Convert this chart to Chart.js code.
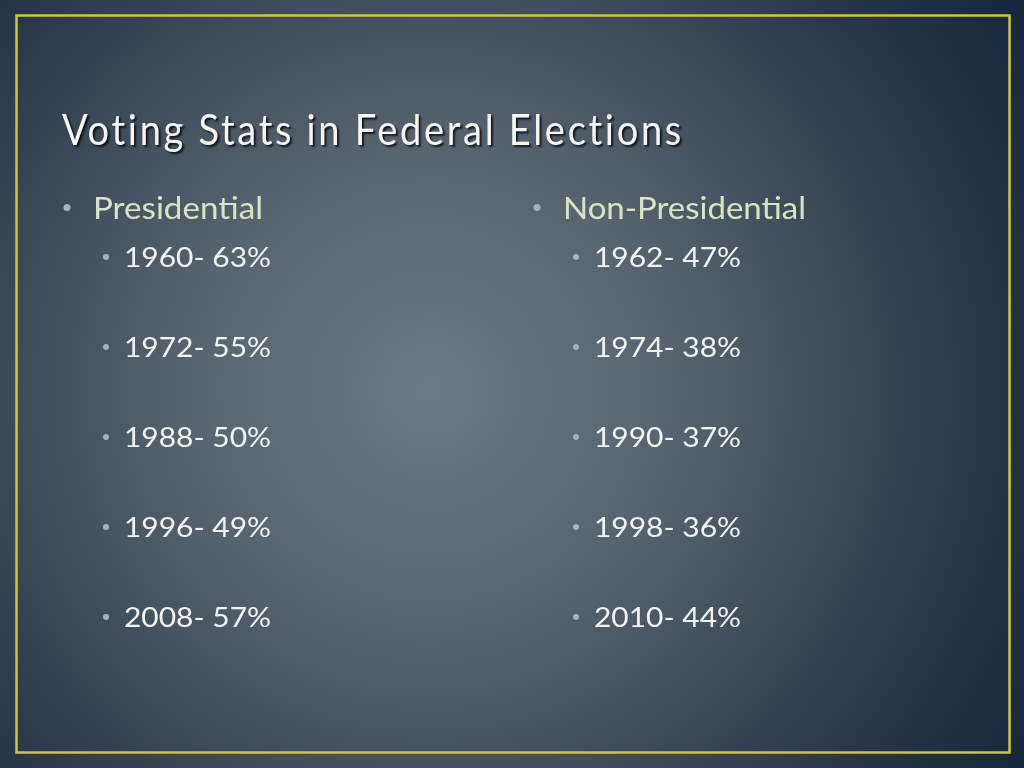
<!DOCTYPE html>
<html>
<head>
<meta charset="utf-8">
<script src="https://cdn.jsdelivr.net/npm/chart.js@4"></script>
<style>
  html, body { margin: 0; padding: 0; background: #1b2838; }
  #wrap { width: 1024px; height: 768px; }
</style>
</head>
<body>
<div id="wrap"><canvas id="slide"></canvas></div>
<script>
// Slide data
const title = 'Voting Stats in Federal Elections';
const groups = ['Presidential', 'Non-Presidential'];
const presYears = [1960, 1972, 1988, 1996, 2008];
const presTurnout = [63, 55, 50, 49, 57];
const nonPresYears = [1962, 1974, 1990, 1998, 2010];
const nonPresTurnout = [47, 38, 37, 36, 44];

const FONT = 'Lato, "Open Sans", sans-serif';

// Fit text into a target width by horizontal scaling
function fitText(ctx, text, x, y, width) {
  const w = ctx.measureText(text).width;
  ctx.save();
  ctx.translate(x, y);
  ctx.scale(width / w, 1);
  ctx.fillText(text, 0, 0);
  ctx.restore();
}

const slidePlugin = {
  id: 'slide',
  beforeDraw(chart) {
    const { ctx, width, height } = chart;
    // radial background
    const g = ctx.createRadialGradient(430, 390, 0, 430, 390, 720);
    g.addColorStop(0, '#6c7a84');
    g.addColorStop(0.35, '#56636e');
    g.addColorStop(0.75, '#2a3848');
    g.addColorStop(1, '#15243a');
    ctx.fillStyle = g;
    ctx.fillRect(0, 0, width, height);
    // yellow frame
    ctx.strokeStyle = '#c9c93a';
    ctx.lineWidth = 2.5;
    ctx.strokeRect(16.5, 15.5, 993, 737);
    // title
    ctx.save();
    ctx.font = '43px ' + FONT;
    ctx.letterSpacing = '3px';
    ctx.textBaseline = 'alphabetic';
    ctx.shadowColor = 'rgba(0,0,0,0.75)';
    ctx.shadowOffsetX = 2;
    ctx.shadowOffsetY = 2;
    ctx.shadowBlur = 2;
    ctx.fillStyle = '#f4f6f6';
    fitText(ctx, title, 62, 145, 622);
    ctx.restore();
  },
  afterDatasetsDraw(chart) {
    const { ctx } = chart;
    const xs = chart.scales.x;
    const ys = chart.scales.y;
    ctx.save();
    ctx.textBaseline = 'middle';
    chart.data.datasets.forEach((ds, di) => {
      // group header one step above the first row
      const hx = xs.getPixelForValue(di) - 31;
      const hy = ys.getPixelForValue(-0.55);
      ctx.fillStyle = '#a9b2ba';
      ctx.beginPath();
      ctx.arc(hx - 26, hy, 3.5, 0, Math.PI * 2);
      ctx.fill();
      ctx.font = '31px ' + FONT;
      ctx.fillStyle = '#dbe3c6';
      fitText(ctx, ds.label, hx, hy + 1, di === 0 ? 170 : 243);
      // rows
      const meta = chart.getDatasetMeta(di);
      meta.data.forEach((pt, i) => {
        ctx.fillStyle = '#a9b2ba';
        ctx.beginPath();
        ctx.arc(pt.x - 18, pt.y, 3, 0, Math.PI * 2);
        ctx.fill();
        ctx.font = '27px ' + FONT;
        ctx.fillStyle = '#f2f4f4';
        fitText(ctx, ds.data[i].text, pt.x, pt.y + 1, 147);
      });
    });
    ctx.restore();
  }
};

function rows(years, turnout) {
  return years.map((yr, i) => ({ x: 0, y: i, text: yr + '- ' + turnout[i] + '%' }));
}

const presRows = rows(presYears, presTurnout);
const nonPresRows = rows(nonPresYears, nonPresTurnout).map(r => ({ ...r, x: 1 }));

new Chart(document.getElementById('slide'), {
  type: 'scatter',
  data: {
    datasets: [
      { label: groups[0], data: presRows, pointRadius: 0 },
      { label: groups[1], data: nonPresRows, pointRadius: 0 }
    ]
  },
  options: {
    responsive: true,
    maintainAspectRatio: false,
    animation: false,
    layout: { padding: { left: 124, right: 430, top: 167, bottom: 61 } },
    plugins: { legend: { display: false }, tooltip: { enabled: false } },
    scales: {
      x: { type: 'linear', min: 0, max: 1, display: false },
      y: { type: 'linear', min: -1, max: 5, reverse: true, display: false }
    }
  },
  plugins: [slidePlugin]
});
</script>
</body>
</html>
